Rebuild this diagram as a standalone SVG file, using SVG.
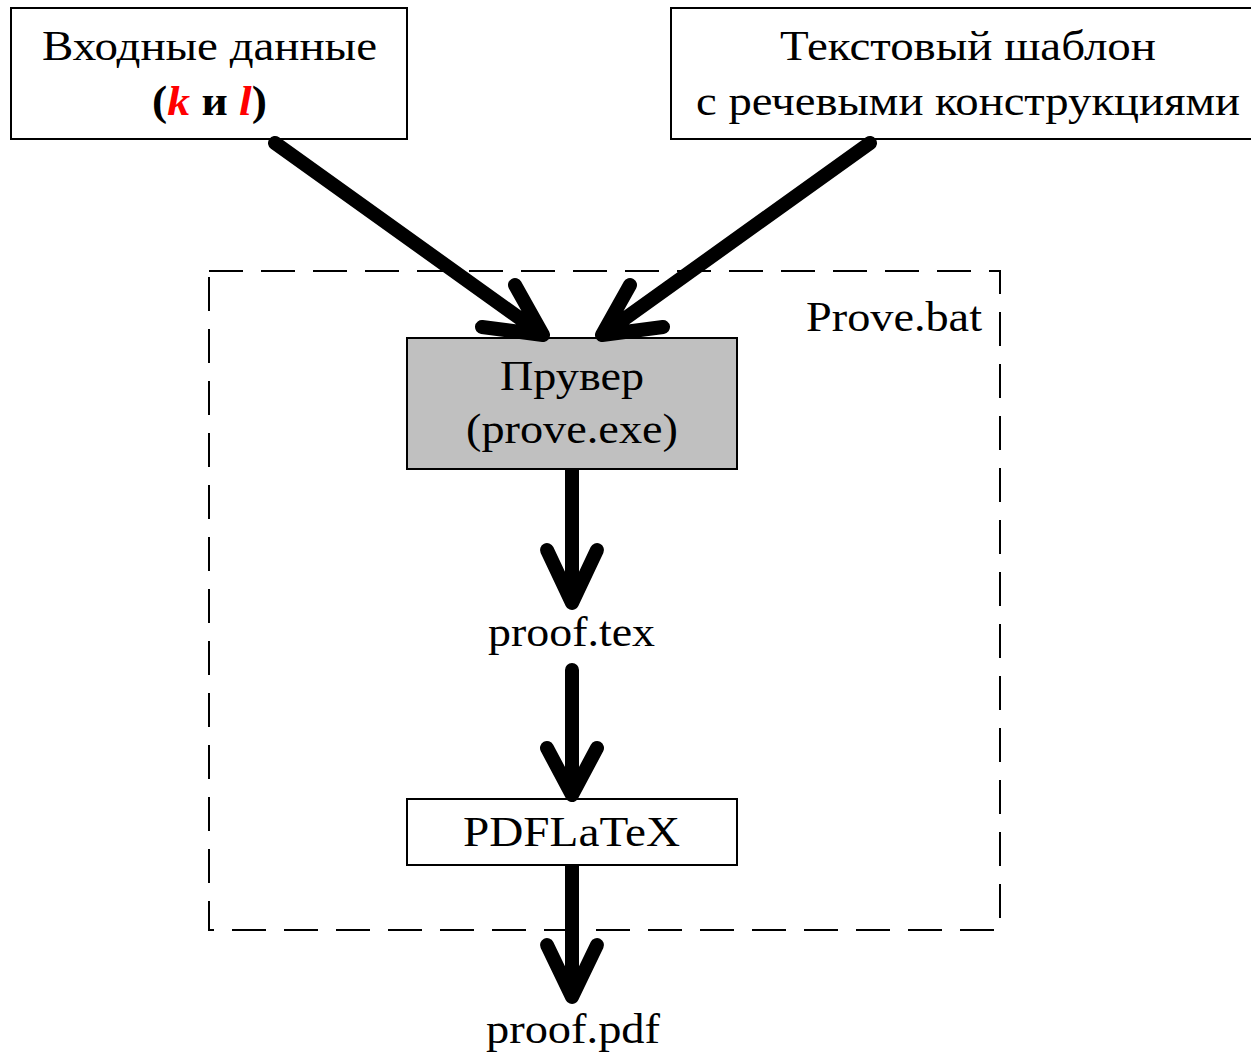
<svg xmlns="http://www.w3.org/2000/svg" width="1251" height="1055" viewBox="0 0 1251 1055">
<style>
.box{fill:#fff;stroke:#000;stroke-width:2}
.gray{fill:#c0c0c0;stroke:#000;stroke-width:2}
.t{font-family:"Liberation Serif","Times New Roman",serif;font-size:42px;fill:#000;text-anchor:middle}
.c{fill:none;stroke:#000;stroke-width:14;stroke-linecap:round;stroke-linejoin:round}
.s{fill:none;stroke:#000;stroke-width:14;stroke-linecap:butt}
</style>
<rect width="1251" height="1055" fill="#fff"/>
<g id="prove-bat">
<rect x="209" y="271" width="791" height="659" fill="none" stroke="#000" stroke-width="2" stroke-dasharray="34 18"/>
<text class="t" x="894" y="331" textLength="176" lengthAdjust="spacingAndGlyphs">Prove.bat</text>
</g>
<g id="input">
<rect class="box" x="11" y="8" width="396" height="131"/>
<text class="t" x="209.5" y="60" textLength="335" lengthAdjust="spacingAndGlyphs">Входные данные</text>
<text class="t" x="209.5" y="115" font-weight="bold" textLength="115" lengthAdjust="spacingAndGlyphs">(<tspan fill="#ff0000" font-style="italic">k</tspan> и <tspan fill="#ff0000" font-style="italic">l</tspan>)</text>
</g>
<g id="template">
<rect class="box" x="671" y="8" width="590" height="131"/>
<text class="t" x="968" y="60" textLength="376" lengthAdjust="spacingAndGlyphs">Текстовый шаблон</text>
<text class="t" x="968" y="115" textLength="544" lengthAdjust="spacingAndGlyphs">с речевыми конструкциями</text>
</g>
<g id="prover">
<rect class="gray" x="407" y="338" width="330" height="131"/>
<text class="t" x="572" y="390" textLength="144" lengthAdjust="spacingAndGlyphs">Прувер</text>
<text class="t" x="572" y="443" textLength="212" lengthAdjust="spacingAndGlyphs">(prove.exe)</text>
</g>
<g id="proof-tex">
<text class="t" x="571.5" y="646" textLength="167" lengthAdjust="spacingAndGlyphs">proof.tex</text>
</g>
<g id="pdflatex">
<rect class="box" x="407" y="799" width="330" height="66"/>
<text class="t" x="571.5" y="846" textLength="217" lengthAdjust="spacingAndGlyphs">PDFLaTeX</text>
</g>
<g id="proof-pdf">
<text class="t" x="573" y="1043" textLength="174" lengthAdjust="spacingAndGlyphs">proof.pdf</text>
</g>
<g id="connectors">
<path class="c" d="M275 143 L543 335 M482 327 L543 335 L515 285"/>
<path class="c" d="M870 143 L602 335 M630 285 L602 335 L663 327"/>
<path class="s" d="M572 470 L572 600"/>
<path class="c" d="M547 550 L572 603 L597 550"/>
<path class="c" d="M572 670 L572 795 M547 748 L572 795 L597 748"/>
<path class="s" d="M572 866 L572 994"/>
<path class="c" d="M547 945 L572 997 L597 945"/>
</g>
</svg>
